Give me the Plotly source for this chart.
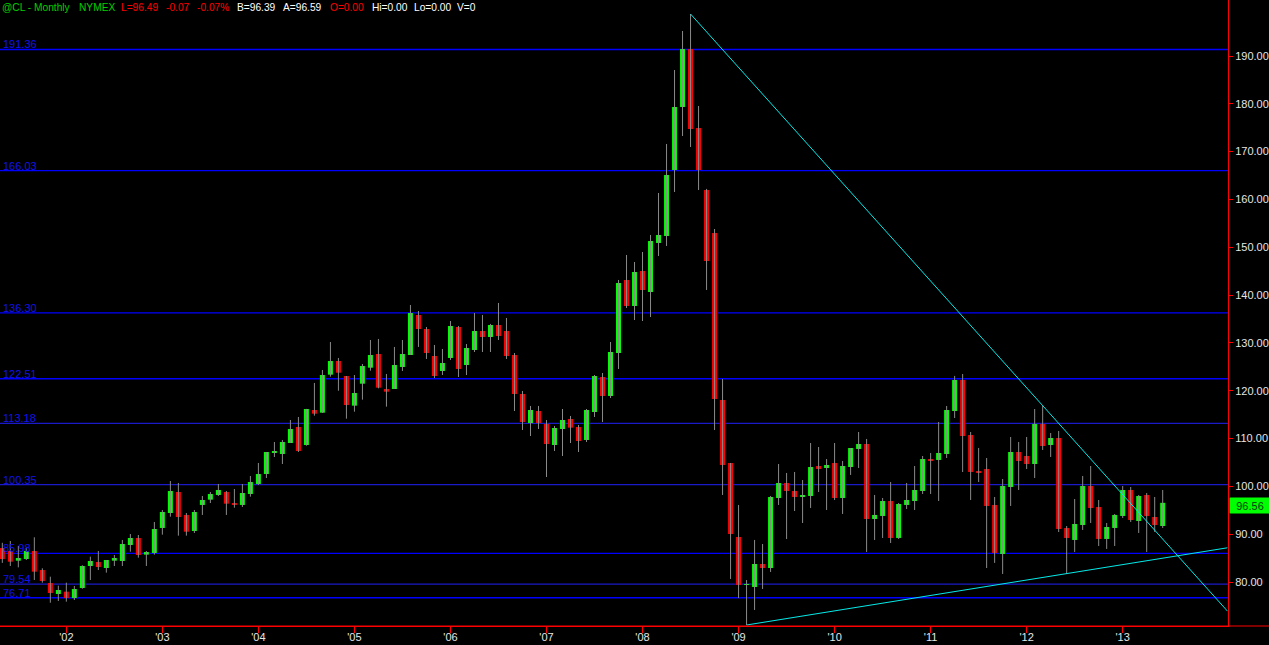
import plotly.graph_objects as go

# ---------------- data ----------------
months = [
    "2001-05", "2001-06", "2001-07", "2001-08", "2001-09", "2001-10", "2001-11", "2001-12",
    "2002-01", "2002-02", "2002-03", "2002-04", "2002-05", "2002-06", "2002-07", "2002-08", "2002-09", "2002-10", "2002-11", "2002-12",
    "2003-01", "2003-02", "2003-03", "2003-04", "2003-05", "2003-06", "2003-07", "2003-08", "2003-09", "2003-10", "2003-11", "2003-12",
    "2004-01", "2004-02", "2004-03", "2004-04", "2004-05", "2004-06", "2004-07", "2004-08", "2004-09", "2004-10", "2004-11", "2004-12",
    "2005-01", "2005-02", "2005-03", "2005-04", "2005-05", "2005-06", "2005-07", "2005-08", "2005-09", "2005-10", "2005-11", "2005-12",
    "2006-01", "2006-02", "2006-03", "2006-04", "2006-05", "2006-06", "2006-07", "2006-08", "2006-09", "2006-10", "2006-11", "2006-12",
    "2007-01", "2007-02", "2007-03", "2007-04", "2007-05", "2007-06", "2007-07", "2007-08", "2007-09", "2007-10", "2007-11", "2007-12",
    "2008-01", "2008-02", "2008-03", "2008-04", "2008-05", "2008-06", "2008-07", "2008-08", "2008-09", "2008-10", "2008-11", "2008-12",
    "2009-01", "2009-02", "2009-03", "2009-04", "2009-05", "2009-06", "2009-07", "2009-08", "2009-09", "2009-10", "2009-11", "2009-12",
    "2010-01", "2010-02", "2010-03", "2010-04", "2010-05", "2010-06", "2010-07", "2010-08", "2010-09", "2010-10", "2010-11", "2010-12",
    "2011-01", "2011-02", "2011-03", "2011-04", "2011-05", "2011-06", "2011-07", "2011-08", "2011-09", "2011-10", "2011-11", "2011-12",
    "2012-01", "2012-02", "2012-03", "2012-04", "2012-05", "2012-06", "2012-07", "2012-08", "2012-09", "2012-10", "2012-11", "2012-12",
    "2013-01", "2013-02", "2013-03", "2013-04", "2013-05", "2013-06",
]

open_ = [
    87.10, 86.49, 84.46, 84.81, 86.49, 82.51, 79.79, 77.49,
    77.98, 76.66, 78.75, 83.35, 84.18, 82.93, 84.46, 84.39, 87.74, 89.21, 85.72, 86.07,
    91.30, 94.43, 98.82, 94.02, 90.67, 96.11, 97.22, 98.20, 98.82, 96.52, 96.11, 98.41,
    100.50, 102.59, 106.98, 106.77, 109.07, 112.42, 108.65, 115.97, 115.41, 123.36, 126.22, 123.08,
    116.88, 121.47, 124.82, 127.68, 120.36, 120.36, 124.96, 127.47, 135.84, 132.91, 127.26, 124.13,
    126.85, 133.33, 125.38, 128.52, 132.49, 131.24, 133.75, 132.49, 127.47, 119.32, 113.25, 115.76,
    113.04, 108.65, 112.00, 114.09, 112.42, 109.70, 115.55, 122.87, 118.90, 127.89, 143.16, 137.72,
    145.04, 140.65, 150.90, 152.36, 166.16, 179.33, 191.46, 174.94, 161.98, 152.99, 118.06, 104.89,
    89.41, 79.38, 78.96, 83.77, 82.93, 97.57, 100.71, 99.03, 97.78, 97.99, 104.26, 103.84,
    104.89, 97.57, 104.05, 107.82, 108.86, 93.18, 93.81, 96.94, 89.21, 96.11, 96.94, 99.03,
    105.72, 105.52, 106.77, 115.76, 122.25, 110.74, 103.22, 103.63, 96.11, 85.86, 99.87, 107.19,
    106.35, 104.68, 113.04, 108.65, 110.12, 91.30, 88.79, 91.92, 100.08, 95.69, 89.00, 91.30,
    93.81, 99.24, 92.76, 98.20, 93.60, 91.71,
]

high = [
    88.20, 88.58, 87.53, 87.12, 89.35, 82.87, 81.11, 79.23,
    79.86, 79.17, 83.50, 85.30, 86.49, 84.60, 85.65, 88.79, 90.04, 89.83, 86.49, 92.55,
    95.06, 101.12, 100.71, 94.43, 95.06, 97.99, 98.82, 100.50, 99.03, 99.45, 100.50, 102.17,
    104.89, 107.19, 109.28, 109.70, 113.88, 114.51, 116.20, 121.62, 124.34, 130.19, 126.85, 123.08,
    123.29, 125.59, 130.61, 130.82, 123.50, 129.15, 130.61, 137.93, 136.67, 133.33, 129.57, 128.73,
    134.58, 133.54, 129.77, 136.26, 135.84, 133.96, 138.35, 135.21, 127.89, 119.95, 116.81, 116.81,
    113.88, 112.63, 116.18, 114.72, 112.84, 116.18, 123.29, 123.71, 130.19, 143.16, 148.39, 146.92,
    149.01, 152.57, 161.35, 171.60, 187.07, 195.23, 198.78, 179.54, 162.20, 153.82, 122.45, 104.89,
    96.11, 80.42, 88.79, 87.95, 97.99, 104.68, 102.80, 103.01, 101.33, 109.07, 108.23, 105.72,
    109.07, 105.31, 108.03, 111.37, 109.91, 98.20, 97.57, 100.92, 96.52, 100.71, 104.26, 106.35,
    106.98, 113.46, 116.81, 123.10, 123.50, 111.37, 108.03, 105.93, 97.78, 101.54, 110.33, 109.28,
    110.33, 116.18, 116.81, 111.16, 111.58, 91.71, 97.36, 102.17, 104.26, 97.15, 92.34, 94.23,
    100.08, 99.87, 98.20, 98.62, 97.78, 99.24,
]

low = [
    84.00, 83.35, 83.07, 84.60, 80.42, 79.86, 75.67, 76.03,
    75.89, 76.24, 78.60, 80.42, 82.51, 81.96, 83.35, 83.35, 86.34, 85.09, 83.35, 85.72,
    89.90, 93.66, 89.69, 89.69, 90.25, 94.02, 96.52, 97.99, 94.02, 95.54, 95.69, 97.85,
    100.29, 101.75, 106.14, 104.68, 109.07, 107.19, 108.50, 114.78, 115.35, 122.94, 120.00, 114.15,
    115.62, 118.13, 124.19, 120.50, 116.67, 120.36, 124.13, 127.47, 129.15, 126.64, 122.66, 123.29,
    126.43, 122.87, 123.29, 128.10, 128.10, 128.10, 130.61, 126.64, 115.76, 111.79, 110.53, 112.00,
    101.96, 107.40, 106.35, 109.07, 107.19, 109.28, 114.51, 113.46, 118.48, 124.55, 137.30, 134.79,
    134.58, 135.42, 148.18, 150.27, 161.56, 173.27, 170.97, 161.98, 141.07, 111.79, 98.20, 80.63,
    76.66, 71.01, 74.15, 78.54, 82.10, 96.11, 88.99, 94.85, 92.34, 95.48, 98.82, 95.06,
    97.15, 94.23, 102.38, 103.84, 86.28, 88.79, 89.21, 88.16, 89.00, 95.27, 95.06, 98.41,
    98.41, 96.94, 105.93, 114.30, 103.00, 97.15, 100.92, 82.93, 84.00, 81.68, 95.90, 99.24,
    103.63, 101.75, 107.61, 106.14, 90.46, 81.68, 86.28, 90.88, 92.34, 87.53, 86.91, 87.53,
    93.39, 92.55, 90.25, 86.28, 90.46, 91.30,
]

close = [
    84.80, 84.25, 85.02, 86.49, 82.16, 80.21, 77.70, 78.33,
    76.66, 78.54, 83.35, 84.39, 83.14, 84.60, 85.02, 87.95, 89.21, 85.65, 86.28, 91.09,
    94.64, 99.03, 93.60, 90.52, 94.64, 97.15, 98.41, 99.24, 96.38, 96.11, 98.62, 100.92,
    102.59, 107.19, 107.40, 109.28, 112.00, 107.40, 116.18, 115.20, 123.29, 126.22, 123.77, 117.02,
    119.53, 125.17, 127.47, 120.64, 119.80, 125.38, 127.68, 136.26, 132.91, 127.89, 123.08, 125.80,
    133.54, 124.55, 128.94, 132.49, 131.24, 133.75, 131.45, 127.26, 119.32, 113.46, 115.97, 113.25,
    108.86, 112.21, 113.88, 112.28, 109.49, 115.97, 123.08, 118.90, 128.10, 142.53, 137.72, 144.83,
    141.07, 151.31, 152.57, 165.11, 179.33, 191.46, 174.73, 166.16, 147.13, 118.27, 104.47, 90.04,
    79.38, 79.58, 83.77, 82.93, 97.78, 100.71, 99.03, 97.78, 98.20, 104.05, 103.63, 104.47,
    97.57, 104.26, 108.03, 108.86, 93.18, 94.02, 96.94, 89.21, 96.32, 97.15, 99.24, 105.72,
    105.50, 106.98, 115.97, 122.25, 110.53, 103.01, 102.80, 95.90, 86.07, 100.08, 107.19, 105.31,
    104.68, 113.04, 108.44, 110.12, 91.09, 89.21, 92.13, 100.08, 95.48, 89.00, 91.50, 94.02,
    99.24, 92.97, 97.99, 93.81, 91.92, 96.56,
]

level_values = [191.36, 166.03, 136.30, 122.51, 113.18, 100.35, 85.98, 79.54, 76.71]
level_labels = ["191.36", "166.03", "136.30", "122.51", "113.18", "100.35", "85.98", "79.54", "76.71"]
level_colors = ["#0000FF", "#0000FF", "#0000FF", "#0000FF", "#1A1AC8", "#1A1AC8", "#0000FF", "#1A1AC8", "#0000FF"]

# trend lines (month index from Jan 2002, price)
trend_down_x = [78.0, 145.1]
trend_down_y = [198.78, 73.9]
trend_up_x = [85.0, 145.1]
trend_up_y = [71.01, 87.16]

price_ticks = [80, 90, 100, 110, 120, 130, 140, 150, 160, 170, 180, 190]
year_tick_labels = ["'02", "'03", "'04", "'05", "'06", "'07", "'08", "'09", "'10", "'11", "'12", "'13"]

header_texts = ["@CL - Monthly", "NYMEX", "L=96.49", "-0.07", "-0.07%", "B=96.39", "A=96.59",
                "O=0.00", "Hi=0.00", "Lo=0.00", "V=0"]
header_colors = ["#00D000", "#00D000", "#FF0000", "#FF0000", "#FF0000", "#FFFFFF", "#FFFFFF",
                 "#FF0000", "#FFFFFF", "#FFFFFF", "#FFFFFF"]
header_px = [2, 79, 121, 166, 197, 237, 283, 330, 372, 414, 457]   # left edges (layout)
last_price_label = "96.56"

# ---------------- derived ----------------
def month_index(s):
    y, m = s.split("-")
    return (int(y) - 2002) * 12 + int(m) - 1

xs = [month_index(s) for s in months]

wick_x, wick_y = [], []
for x, h, l in zip(xs, high, low):
    wick_x += [x, x, None]
    wick_y += [l, h, None]

body_base = [min(o, c) for o, c in zip(open_, close)]
body_h = [max(abs(c - o), 0.15) for o, c in zip(open_, close)]
body_col = ["#00FF00" if c >= o else "#FF0000" for o, c in zip(open_, close)]

FONT = "Liberation Sans, Arial, sans-serif"
W, H = 1269, 645
PLOT_W = 1228

fig = go.Figure()
fig.add_trace(go.Scatter(x=wick_x, y=wick_y, mode="lines",
                         line=dict(color="#8A8A8A", width=1), hoverinfo="skip", showlegend=False))
fig.add_trace(go.Bar(x=xs, y=body_h, base=body_base, width=0.625,
                     marker=dict(color=body_col, line=dict(width=0)), hoverinfo="skip", showlegend=False))

for tx, ty in ((trend_down_x, trend_down_y), (trend_up_x, trend_up_y)):
    fig.add_trace(go.Scatter(x=tx, y=ty, mode="lines", line=dict(color="#00EAEA", width=1),
                             hoverinfo="skip", showlegend=False))

shapes = []
annotations = []
for v, lab, col in zip(level_values, level_labels, level_colors):
    shapes.append(dict(type="line", xref="paper", x0=0, x1=1, yref="y", y0=v, y1=v,
                       line=dict(color=col, width=1.3), layer="below"))
    annotations.append(dict(xref="paper", x=0, xanchor="left", yref="y", y=v, yanchor="bottom",
                            text=lab, showarrow=False, xshift=1, yshift=-3,
                            font=dict(family=FONT, size=11, color="#1212EE")))

# red frame line extending into the right margin
shapes.append(dict(type="line", xref="paper", x0=0, x1=W / PLOT_W, yref="paper", y0=0, y1=0,
                   line=dict(color="#FF0000", width=1)))

for t, c, px in zip(header_texts, header_colors, header_px):
    annotations.append(dict(xref="paper", yref="paper", x=px / PLOT_W, y=1, xanchor="left", yanchor="top",
                            text=t, showarrow=False, xshift=-1, yshift=-1, borderpad=0,
                            font=dict(family=FONT, size=10.2, color=c)))

annotations.append(dict(xref="paper", x=1, xanchor="left", yref="y", y=close[-1], yanchor="middle",
                        text=last_price_label, showarrow=False, xshift=1, yshift=-3,
                        bgcolor="#00FF00", width=38, height=13, align="center",
                        font=dict(family=FONT, size=11, color="#0A3A0A")))

fig.update_layout(
    width=W, height=H,
    paper_bgcolor="#000000", plot_bgcolor="#000000",
    margin=dict(l=0, r=W - PLOT_W, t=0, b=19, pad=0),
    showlegend=False, barmode="overlay",
    shapes=shapes, annotations=annotations,
    xaxis=dict(range=[-8.29, 145.16], showgrid=False, zeroline=False,
               showline=True, linecolor="#FF0000", linewidth=1,
               ticks="outside", tickcolor="#FF0000", ticklen=6, tickwidth=1,
               tickvals=[12 * i for i in range(len(year_tick_labels))], ticktext=year_tick_labels,
               ticklabelstandoff=-5,
               tickfont=dict(family=FONT, size=11, color="#E6E6E6"), automargin=False, fixedrange=True),
    yaxis=dict(range=[70.8, 201.71], side="right", showgrid=False, zeroline=False,
               showline=True, linecolor="#FF0000", linewidth=1,
               ticks="outside", tickcolor="#FF0000", ticklen=4, tickwidth=1,
               tickvals=price_ticks, tickformat=".2f",
               tickfont=dict(family=FONT, size=11, color="#E6E6E6"), automargin=False, fixedrange=True),
)

fig.write_html("out.html", config={"displayModeBar": False},
               post_script="document.body.style.margin='0px';document.body.style.background='#000';")
